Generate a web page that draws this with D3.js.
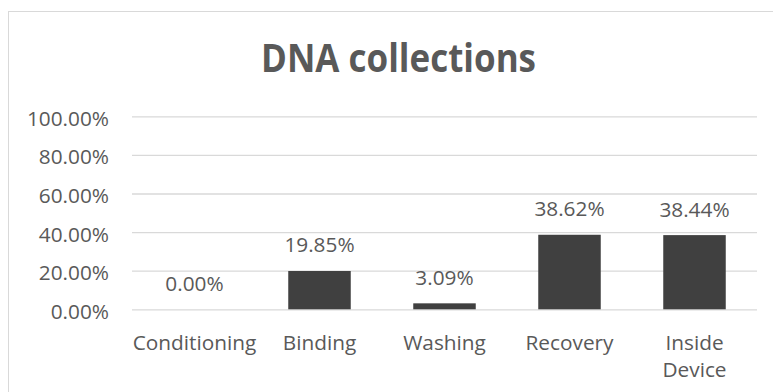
<!DOCTYPE html>
<html>
<head>
<meta charset="utf-8">
<script src="https://cdn.jsdelivr.net/npm/d3@7"></script>
<style>
  html, body { margin: 0; padding: 0; background: #fff; }
  svg { display: block; }
</style>
</head>
<body>
<svg id="chart" width="773" height="392"></svg>
<script>
// Chart content
const chartTitle = "DNA collections";
const categories = ["Conditioning", "Binding", "Washing", "Recovery", "Inside Device"];
const shares = [0.0000, 0.1985, 0.0309, 0.3862, 0.3844];
const yTicks = [0, 0.2, 0.4, 0.6, 0.8, 1.0];

const W = 773, H = 392;
const plot = { left: 132, right: 757, top: 116.3, bottom: 309.3 };
const font = "'Open Sans', 'Noto Sans', sans-serif";
const textColor = "#595959";
const gridColor = "#D9D9D9";
const barColor = "#404040";

const svg = d3.select("#chart");

// Chart-area outline (runs off the right and bottom edges)
svg.append("rect")
  .attr("x", 8.5).attr("y", 11.5)
  .attr("width", 800).attr("height", 400)
  .attr("fill", "#fff")
  .attr("stroke", gridColor)
  .attr("stroke-width", 1);

const x = d3.scaleBand()
  .domain(categories)
  .range([plot.left, plot.right])
  .paddingInner(0.5)
  .paddingOuter(0.25);

const y = d3.scaleLinear()
  .domain([0, 1])
  .range([plot.bottom, plot.top]);

// Title
svg.append("text")
  .attr("x", 398.5).attr("y", 71.5)
  .attr("text-anchor", "middle")
  .attr("font-family", font)
  .attr("font-weight", 700)
  .attr("font-size", 39)
  .attr("textLength", 275)
  .attr("lengthAdjust", "spacingAndGlyphs")
  .attr("fill", textColor)
  .text(chartTitle);

// Y axis: gridlines + percentage labels
const yAxis = d3.axisLeft(y)
  .tickValues(yTicks)
  .tickFormat(d3.format(".2%"))
  .tickSize(-(plot.right - plot.left))
  .tickPadding(23);

const gy = svg.append("g")
  .attr("transform", `translate(${plot.left},0)`)
  .call(yAxis);
gy.select(".domain").remove();
gy.selectAll(".tick line")
  .attr("stroke", gridColor)
  .attr("stroke-width", 1.3);
gy.selectAll(".tick text")
  .attr("font-family", font)
  .attr("font-size", 20.8)
  .attr("fill", textColor)
  .attr("dy", null)
  .attr("dominant-baseline", "central")
  .attr("y", 1);

// Bars
svg.append("g").selectAll("rect")
  .data(categories)
  .join("rect")
  .attr("x", d => x(d))
  .attr("width", x.bandwidth())
  .attr("y", (d, i) => y(shares[i]))
  .attr("height", (d, i) => y(0) - y(shares[i]))
  .attr("fill", barColor);

// Value labels above bars
svg.append("g").selectAll("text")
  .data(categories)
  .join("text")
  .attr("x", d => x(d) + x.bandwidth() / 2)
  .attr("y", (d, i) => y(shares[i]) - 18.6)
  .attr("text-anchor", "middle")
  .attr("font-family", font)
  .attr("font-size", 20.8)
  .attr("fill", textColor)
  .text((d, i) => d3.format(".2%")(shares[i]));

// Category labels (wrapped on spaces for long names)
const xAxis = d3.axisBottom(x).tickSize(0).tickPadding(0);
const gx = svg.append("g")
  .attr("transform", `translate(0,${plot.bottom})`)
  .call(xAxis);
gx.select(".domain").remove();
gx.selectAll(".tick text").each(function(d) {
  const t = d3.select(this);
  t.text(null)
    .attr("y", 0).attr("dy", null)
    .attr("font-family", font)
    .attr("font-size", 20.8)
    .attr("fill", textColor);
  const words = d.length > 12 ? d.split(" ") : [d];
  words.forEach((w, k) => {
    t.append("tspan")
      .attr("x", 0)
      .attr("y", 40.5 + k * 27.5)
      .text(w);
  });
});
</script>
</body>
</html>
